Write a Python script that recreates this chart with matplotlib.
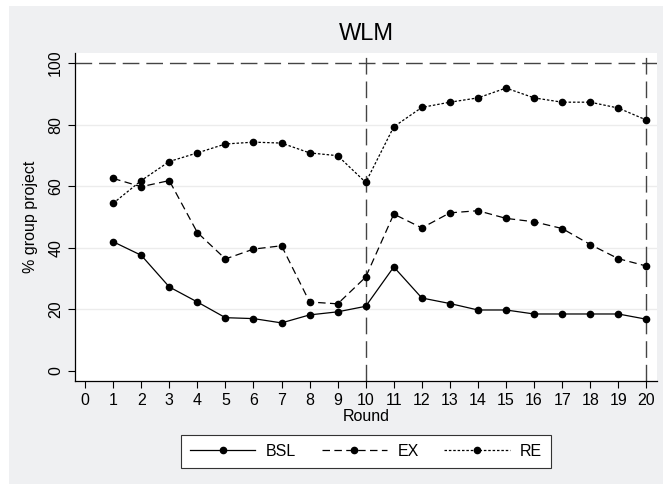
import matplotlib.pyplot as plt
from matplotlib.patches import Rectangle

plt.rcParams['font.family'] = ['Liberation Sans', 'DejaVu Sans']

rounds = list(range(1, 21))
bsl = [41.9, 37.5, 27.2, 22.3, 17.2, 16.9, 15.5, 18.1, 19.1, 20.9,
       33.7, 23.6, 21.8, 19.7, 19.7, 18.4, 18.4, 18.4, 18.4, 16.7]
ex = [62.5, 59.8, 61.8, 44.9, 36.3, 39.5, 40.6, 22.3, 21.7, 30.4,
      50.9, 46.4, 51.3, 52.0, 49.5, 48.4, 46.2, 41.0, 36.4, 34.0]
re = [54.4, 61.8, 68.0, 70.8, 73.7, 74.3, 74.0, 70.8, 69.9, 61.2,
      79.3, 85.6, 87.3, 88.7, 91.9, 88.7, 87.3, 87.3, 85.4, 81.5]

fig = plt.figure(figsize=(6.63, 4.84), dpi=100, facecolor='white')
# grey panel behind everything, leaving a thin white strip top/left
fig.patches.append(Rectangle((9 / 663, 0), 1, 1 - 6 / 484, transform=fig.transFigure,
                             facecolor='#eff0f2', edgecolor='none', zorder=-10))

ax = fig.add_axes([75 / 663, 103 / 484, 582 / 663, 328 / 484])
ax.set_facecolor('white')

for y in [20, 40, 60, 80]:
    ax.axhline(y, color='#ececec', lw=1, zorder=0)

ref = dict(color='#444444', lw=1, dashes=(12, 5), zorder=1)
ax.axhline(100, **ref)
ax.axvline(10, **ref)
ax.axvline(20, **ref)

mk = dict(marker='o', ms=4.5, color='black', lw=0.9, zorder=3)
ax.plot(rounds, bsl, linestyle='-', label='BSL', **mk)
ax.plot(rounds, ex, dashes=(6, 3.5), label='EX', **mk)
ax.plot(rounds, re, dashes=(2, 1.5), label='RE', **mk)

ax.set_xlim(-0.36, 20.38)
ax.set_ylim(-3.4, 103.3)
ax.set_xticks(range(0, 21))
ax.set_yticks(range(0, 101, 20))
ax.tick_params(labelsize=11.5, length=5, width=0.8, color='black', direction='out')
for lbl in ax.get_yticklabels():
    lbl.set_rotation(90)
    lbl.set_va('center')
ax.spines['top'].set_visible(False)
ax.spines['right'].set_visible(False)
for s in ['left', 'bottom']:
    ax.spines[s].set_linewidth(0.9)

ax.set_xlabel('Round', fontsize=11.5, labelpad=1)
ax.set_ylabel('% group project', fontsize=11.5, labelpad=7)
ax.set_title('WLM', fontsize=17, pad=9)

leg = fig.legend(loc='center', bbox_to_anchor=(366 / 663, 1 - 451.5 / 484), ncol=3,
                 numpoints=1, handlelength=4.1, fontsize=11.5, frameon=True,
                 fancybox=False, edgecolor='#333333', framealpha=1,
                 columnspacing=1.6, handletextpad=0.65, borderpad=0.55,
                 borderaxespad=0)
leg.get_frame().set_linewidth(0.8)

fig.savefig('out.png', dpi=100, facecolor=fig.get_facecolor())
